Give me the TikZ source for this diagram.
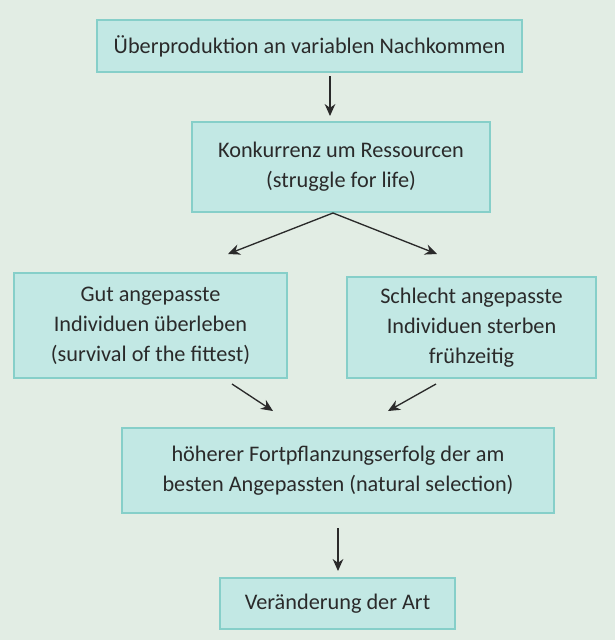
\documentclass[tikz,border=0pt]{standalone}
\usepackage{fontspec}
\setmainfont{Carlito}
\usetikzlibrary{arrows.meta}
\definecolor{bg}{HTML}{E2EDE4}
\definecolor{boxfill}{HTML}{C2E8E4}
\definecolor{boxline}{HTML}{86CFC9}
\definecolor{ink}{HTML}{2A2A2A}
\begin{document}
\begin{tikzpicture}[x=0.75pt,y=-0.75pt,
  box/.style={draw=boxline,line width=1pt,fill=boxfill,align=center,font=\fontsize{16.7}{22.5}\selectfont,text=ink,inner sep=0pt},
  arr/.style={-{Stealth[length=9pt,width=8pt]},line width=1pt,draw=ink}]
\fill[bg] (0,0) rectangle (615,640);
\useasboundingbox (0,0) rectangle (615,640);
\node[box,minimum width=425*0.75pt,minimum height=52*0.75pt] (a) at (309.5,46) {Überproduktion an variablen Nachkommen};
\node[box,minimum width=298*0.75pt,minimum height=90*0.75pt] (b) at (341,167) {Konkurrenz um Ressourcen\\(struggle for life)};
\node[box,minimum width=273*0.75pt,minimum height=105*0.75pt] (c) at (150.5,325.5) {Gut angepasste\\Individuen überleben\\(survival of the fittest)};
\node[box,minimum width=249*0.75pt,minimum height=101*0.75pt] (d) at (471.5,327.5) {Schlecht angepasste\\Individuen sterben\\frühzeitig};
\node[box,minimum width=432*0.75pt,minimum height=85*0.75pt] (e) at (338,470.5) {höherer Fortpflanzungserfolg der am\\besten Angepassten (natural selection)};
\node[box,minimum width=235*0.75pt,minimum height=51*0.75pt] (f) at (337.5,603.5) {Veränderung der Art};
\coordinate (a1) at (330,76); \coordinate (b0) at (330,116);
\coordinate (bs) at (333,213);
\coordinate (c0) at (228,254); \coordinate (d0) at (437,254);
\coordinate (c1) at (232,384); \coordinate (e0) at (273,411);
\coordinate (d1) at (436,384); \coordinate (e1) at (388,411);
\coordinate (e2) at (338,528); \coordinate (f0) at (338,571);
\draw[arr] (a1) -- (b0);
\draw[arr] (bs) -- (c0);
\draw[arr] (bs) -- (d0);
\draw[arr] (c1) -- (e0);
\draw[arr] (d1) -- (e1);
\draw[arr] (e2) -- (f0);
\end{tikzpicture}
\end{document}
